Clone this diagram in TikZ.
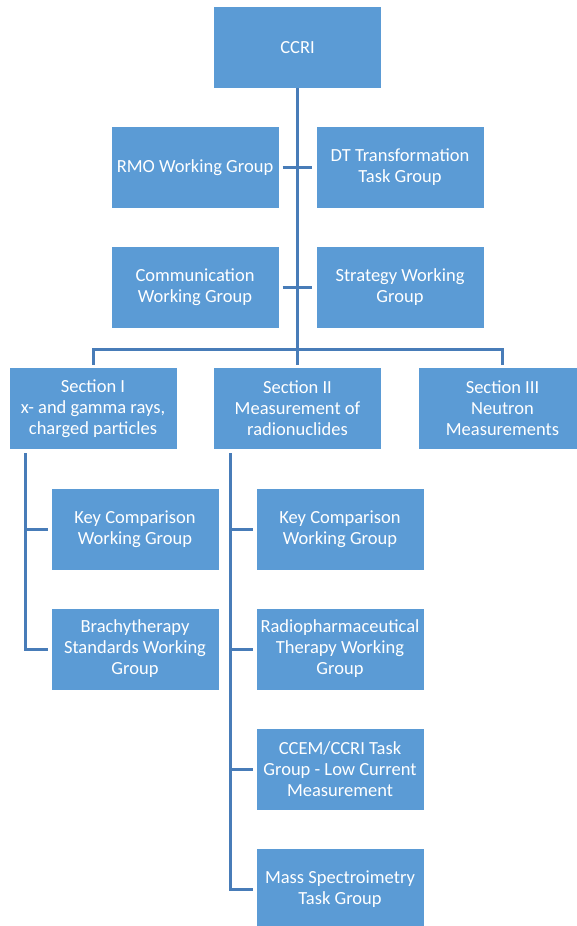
\documentclass[tikz,border=0pt]{standalone}
\usepackage{fontspec}
\setmainfont{Carlito}
\usepackage{tikz}
\usetikzlibrary{positioning,calc}

\definecolor{boxblue}{RGB}{91,155,213}
\definecolor{lineblue}{RGB}{72,124,184}

\tikzset{
  unit/.style={rectangle, fill=boxblue, text=white, minimum width=167pt,
    minimum height=81pt, inner sep=2pt, align=center,
    font=\fontsize{18.5}{21}\selectfont},
  link/.style={draw=lineblue, line width=3pt}
}

\begin{document}
\begin{tikzpicture}[x=1pt, y=-1pt]
        \useasboundingbox (0,0) rectangle (577,926);
        \clip (0,0) rectangle (577,926);
        % top of the tree
        \node[unit] (ccri) at (297.5,47.5) {CCRI};
        \node[unit] (rmo) at (195,167.5) {RMO Working Group};
        \node[unit] (dt) at (400,167.5) {DT Transformation\\Task Group};
        \node[unit] (comm) at (195,287.5) {Communication\\Working Group};
        \node[unit] (strat) at (400,287.5) {Strategy Working\\Group};
        % the three sections
        \node[unit] (secI) at (93,408.5) {Section I\\x- and gamma rays,\\charged particles};
        \node[unit] (secII) at (297.5,408.5) {Section II\\Measurement of\\radionuclides};
        \node[unit] (secIII) at (502.5,408.5) {Section III\\Neutron\\Measurements};
        % groups under Section I
        \node[unit] (kcI) at (135,529) {Key Comparison\\Working Group};
        \node[unit] (brachy) at (135,649) {Brachytherapy\\Standards Working\\Group};
        % groups under Section II
        \node[unit] (kcII) at (340,529) {Key Comparison\\Working Group};
        \node[unit] (radio) at (340,649) {Radiopharmaceutical\\Therapy Working\\Group};
        \node[unit] (ccem) at (340,769) {CCEM/CCRI Task\\Group - Low Current\\Measurement};
        \node[unit] (mass) at (340,889) {Mass Spectroimetry\\Task Group};

        \coordinate (bar) at (297.5,349);
        \coordinate (spI) at (25,453);
        \coordinate (spII) at (230,453);

        \draw[link] (ccri.south) -- (bar);
        \draw[link, shorten <=4pt, shorten >=4pt] (rmo.east) -- (dt.west);
        \draw[link, shorten <=4pt, shorten >=4pt] (comm.east) -- (strat.west);
        \draw[link, shorten >=3pt] (bar) -- (secII.north);
        \draw[link, shorten >=3pt] (bar) -| (secI.north);
        \draw[link, shorten >=3pt] (bar) -| (secIII.north);

        \draw[link, shorten >=3pt] (spI) |- (brachy.west);
        \draw[link, shorten >=3pt] (spI |- kcI.west) -- (kcI.west);
        \draw[link, shorten >=3pt] (spII) |- (mass.west);
        \foreach \g in {kcII, radio, ccem}
          \draw[link, shorten >=3pt] (spII |- \g.west) -- (\g.west);
      \end{tikzpicture}
\end{document}
